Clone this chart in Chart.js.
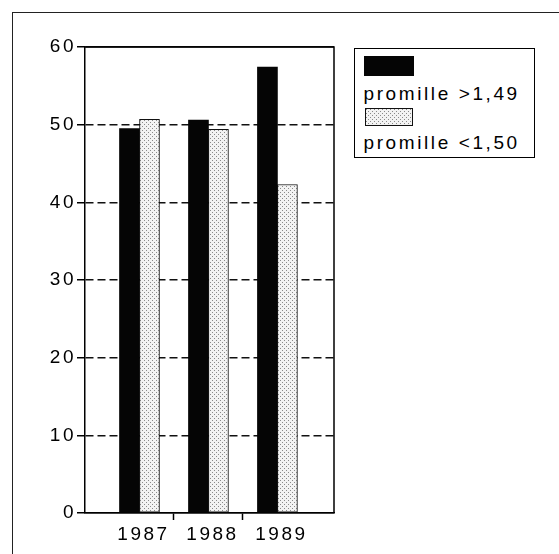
<!DOCTYPE html>
<html><head><meta charset="utf-8">
<script src="https://cdn.jsdelivr.net/npm/chart.js@4"></script>
<style>
html,body{margin:0;padding:0;background:#fff;}
#wrap{position:relative;width:559px;height:554px;overflow:hidden;background:#fff;}
#frame{position:absolute;left:12px;top:12px;width:700px;height:700px;border-left:1.5px solid #222;border-top:1.5px solid #222;}
#cv{position:absolute;left:0;top:0;}
#legend{position:absolute;left:354px;top:48px;width:179px;height:108px;border:1.5px solid #000;font-family:'Liberation Sans',Arial,sans-serif;font-size:19px;line-height:19px;letter-spacing:2.6px;color:#000;background:#fff;}
.sw{position:absolute;box-sizing:border-box;}
.tx{position:absolute;white-space:nowrap;}
</style>
</head><body>
<div id="wrap">
<div id="frame"></div>
<canvas id="cv" width="559" height="554"></canvas>
<div id="legend">
  <div class="sw" id="sw0" style="left:8.5px;top:6.5px;width:50px;height:20px;"></div>
  <div class="tx" id="tx0" style="left:8.5px;top:35px;"></div>
  <div class="sw" id="sw1" style="left:9.5px;top:58.5px;width:48px;height:18px;border:1px solid #111;"></div>
  <div class="tx" id="tx1" style="left:8.5px;top:84px;"></div>
</div>
</div>
<script>
const categories = ['1987', '1988', '1989'];
const seriesNames = ['promille >1,49', 'promille <1,50'];
const highValues = [49.5, 50.6, 57.4];
const lowValues = [50.7, 49.4, 42.3];
const yTickValues = [0, 10, 20, 30, 40, 50, 60];

const FONT = "'Liberation Sans', Arial, sans-serif";

// dotted fill pattern
const pc = document.createElement('canvas');
pc.width = 4; pc.height = 4;
const pctx = pc.getContext('2d');
pctx.fillStyle = '#f3f3f3'; pctx.fillRect(0, 0, 4, 4);
pctx.fillStyle = '#8a8a8a';
pctx.fillRect(0, 0, 1, 1); pctx.fillRect(2, 2, 1, 1);
const cvs = document.getElementById('cv');
const ctx = cvs.getContext('2d');
const dotPattern = ctx.createPattern(pc, 'repeat');

const seriesStyles = [
  { backgroundColor: '#050505', borderColor: '#050505', borderWidth: 0 },
  { backgroundColor: dotPattern, borderColor: '#111', borderWidth: 1 }
];
const seriesValues = [highValues, lowValues];

const spacing = {
  id: 'spacing',
  beforeUpdate(c) { c.ctx.letterSpacing = '2.5px'; },
  beforeDraw(c) { c.ctx.letterSpacing = '2.5px'; }
};
const frame = {
  id: 'frame',
  afterDatasetsDraw(c) {
    const a = c.chartArea, g = c.ctx;
    g.save();
    g.strokeStyle = '#000'; g.lineWidth = 1.5;
    g.beginPath();
    g.moveTo(a.left, a.top); g.lineTo(a.right, a.top); g.lineTo(a.right, a.bottom);
    g.stroke();
    g.restore();
  }
};

const chart = new Chart(cvs, {
  type: 'bar',
  data: {
    datasets: seriesNames.map((name, i) => ({
      label: name,
      data: seriesValues[i].map((v, j) => ({ x: j, y: v })),
      backgroundColor: seriesStyles[i].backgroundColor,
      borderColor: seriesStyles[i].borderColor,
      borderWidth: seriesStyles[i].borderWidth,
      borderSkipped: false,
      barThickness: 20
    }))
  },
  options: {
    responsive: false,
    animation: false,
    devicePixelRatio: 1,
    layout: { padding: { left: 0, top: 47, right: 225, bottom: 0 } },
    plugins: { legend: { display: false }, tooltip: { enabled: false } },
    scales: {
      x: {
        type: 'linear', min: -0.79, max: 2.82, position: 'bottom', offset: false,
        afterBuildTicks: s => { s.ticks = [0, 0.5, 1, 1.5, 2].map(v => ({ value: v })); },
        afterFit: s => { s.height = 41; },
        ticks: {
          autoSkip: false, maxRotation: 0, padding: 3, labelOffset: 4, color: '#000',
          font: { family: FONT, size: 19 },
          callback: v => Number.isInteger(v) ? categories[v] : ''
        },
        grid: {
          display: true, offset: false, drawOnChartArea: false, drawTicks: true, tickLength: 7, tickWidth: 1.5,
          tickColor: c => (c.tick && !Number.isInteger(c.tick.value)) ? '#000' : 'rgba(0,0,0,0)'
        },
        border: { display: true, color: '#000', width: 1.5 }
      },
      y: {
        min: 0, max: 60,
        afterBuildTicks: s => { s.ticks = yTickValues.map(v => ({ value: v })); },
        afterFit: s => { s.width = 85; },
        ticks: { padding: 1, color: '#000', font: { family: FONT, size: 19 } },
        grid: { color: '#111', lineWidth: 1.5, tickLength: 8, tickColor: '#000', tickWidth: 1.5 },
        border: {
          display: true, color: '#000', width: 1.5,
          dash: c => (c.tick && c.tick.value > 0 && c.tick.value < 60) ? [8, 4] : []
        }
      }
    }
  },
  plugins: [spacing, frame]
});

// HTML legend from datasets
chart.data.datasets.forEach((ds, i) => {
  document.getElementById('tx' + i).textContent = ds.label;
  const sw = document.getElementById('sw' + i);
  if (i === 0) sw.style.background = seriesStyles[0].backgroundColor;
  else sw.style.background = 'url(' + pc.toDataURL() + ') repeat';
});
</script>
</body></html>
